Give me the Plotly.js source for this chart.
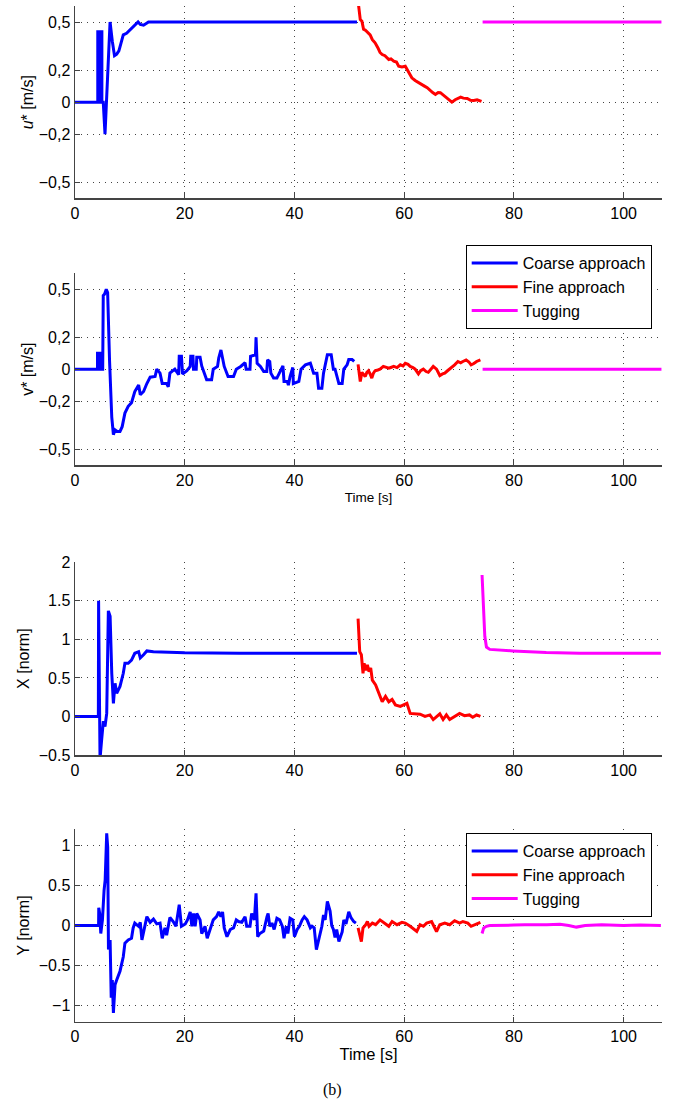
<!DOCTYPE html>
<html><head><meta charset="utf-8">
<script src="https://cdn.plot.ly/plotly-3.0.1.min.js"></script>
<style>html,body{margin:0;padding:0;background:#fff;}#chart{width:673px;height:1101px;}</style>
</head><body><div id="chart"></div>
<script>
// ---------- DATA ----------
const seriesNames = ['Coarse approach', 'Fine approach', 'Tugging'];
const xTickVals = [0, 20, 40, 60, 80, 100];
const xTickText = ['0', '20', '40', '60', '80', '100'];
const uvTickVals = [-0.5, -0.2, 0, 0.2, 0.5];
const uvTickText = ['\u22120,5', '\u22120,2', '0', '0,2', '0,5'];
const xnTickVals = [-0.5, 0, 0.5, 1, 1.5, 2];
const xnTickText = ['\u22120.5', '0', '0.5', '1', '1.5', '2'];
const ynTickVals = [-1, -0.5, 0, 0.5, 1];
const ynTickText = ['\u22121', '\u22120.5', '0', '0.5', '1'];

// u* [m/s]
const coarseT_u = [0, 4.15, 4.15, 4.3, 4.3, 4.45, 4.45, 4.6, 4.6, 4.75, 4.75, 4.9, 4.9, 5.15, 5.47, 5.9, 6.39, 6.8, 7.2, 7.6, 8.0, 8.4, 8.8, 9.4, 10.3, 10.9, 11.5, 11.9, 12.5, 13.4, 20, 30, 40, 51.4];
const coarseU = [0, 0, 0.44, 0.44, 0, 0, 0.44, 0.44, 0, 0, 0.44, 0.44, 0, 0, -0.2, 0.15, 0.5, 0.38, 0.29, 0.3, 0.32, 0.37, 0.42, 0.43, 0.46, 0.48, 0.5, 0.485, 0.48, 0.5, 0.5, 0.5, 0.5, 0.5];
const fineT_u = [51.6, 51.8, 52.0, 52.3, 52.6, 52.9, 53.2, 53.5, 53.8, 54.2, 54.7, 55.2, 55.6, 56.0, 56.5, 57.2, 57.6, 58.1, 58.6, 59.0, 59.6, 60.2, 60.6, 61.0, 61.4, 62.0, 62.6, 63.2, 63.7, 64.2, 64.8, 65.2, 65.7, 66.2, 66.6, 67.1, 67.5, 68.0, 68.7, 69.3, 69.8, 70.3, 70.8, 71.5, 72.1, 72.7, 73.3, 74.1];
const fineU = [0.63, 0.56, 0.515, 0.505, 0.455, 0.45, 0.44, 0.435, 0.42, 0.39, 0.37, 0.34, 0.31, 0.297, 0.29, 0.266, 0.27, 0.256, 0.25, 0.224, 0.22, 0.224, 0.2, 0.17, 0.152, 0.135, 0.121, 0.11, 0.1, 0.09, 0.07, 0.06, 0.048, 0.06, 0.059, 0.045, 0.037, 0.02, 0, 0.015, 0.022, 0.031, 0.025, 0.023, 0.012, 0.01, 0.015, 0.005];
const tugT_u = [74.3, 106.9];
const tugU = [0.5, 0.5];

// v* [m/s]
const coarseT_v = [0, 4.1, 4.1, 4.25, 4.25, 4.4, 4.4, 4.55, 4.55, 4.7, 4.7, 4.85, 4.85, 5.05, 5.15, 5.4, 5.7, 5.95, 6.3, 6.7, 7.0, 7.3, 7.7, 8.2, 8.6, 9.1, 9.7, 10.3, 10.9, 11.6, 11.9, 12.5, 13.1, 13.7, 14.6, 14.9, 15.5, 15.9, 16.7, 17.0, 17.3, 18.2, 18.9, 19.0, 19.4, 19.6, 20.4, 21.0, 21.1, 21.5, 21.6, 22.1, 22.2, 22.8, 23.1, 24.0, 24.9, 25.2, 25.98, 26.2, 26.6, 26.9, 27.2, 27.9, 28.9, 29.4, 30.2, 31.0, 31.2, 31.9, 32.0, 32.9, 33.0, 33.2, 33.8, 34.4, 34.95, 35.1, 35.5, 35.7, 36.2, 36.8, 37.4, 37.9, 38.1, 38.7, 38.9, 39.2, 39.7, 39.8, 40.8, 41.2, 42.0, 42.9, 43.5, 44.1, 44.4, 45.0, 45.3, 46.0, 46.7, 47.1, 47.4, 47.6, 48.1, 48.7, 49.0, 49.6, 49.9, 50.5, 50.9];
const coarseV = [0, 0, 0.1, 0.1, 0, 0, 0.1, 0.1, 0, 0, 0.1, 0.1, 0, 0, 0.46, 0.47, 0.5, 0.48, 0.05, -0.3, -0.41, -0.38, -0.39, -0.39, -0.36, -0.275, -0.233, -0.21, -0.14, -0.1, -0.16, -0.14, -0.09, -0.05, -0.046, 0, -0.025, -0.09, -0.09, -0.11, -0.025, 0, -0.035, 0.08, 0.08, -0.03, -0.01, 0.017, 0.08, 0.08, 0, 0, 0.075, 0.075, 0.02, -0.067, -0.067, 0, 0.017, 0.07, 0.12, 0.06, 0.017, -0.046, -0.046, 0, 0.017, 0.04, 0, 0, 0.08, 0.09, 0.2, 0.037, 0.017, -0.015, -0.015, 0.058, 0.048, -0.025, -0.056, -0.056, -0.015, 0.02, -0.077, -0.077, -0.1, -0.046, 0.01, -0.09, -0.077, 0, 0.027, 0.037, -0.025, -0.025, -0.12, -0.12, -0.025, 0.09, 0.09, 0, 0, -0.025, -0.09, -0.09, 0, 0.027, 0.06, 0.06, 0.048];
const fineT_v = [51.6, 52.0, 52.3, 52.6, 52.9, 53.2, 53.5, 53.8, 54.1, 54.4, 54.7, 55.2, 55.6, 56.2, 56.7, 57.2, 57.7, 58.1, 58.7, 59.3, 59.8, 60.2, 60.7, 61.1, 61.6, 62.0, 62.6, 63.0, 63.5, 64.0, 64.4, 64.9, 65.3, 65.9, 66.5, 67.0, 67.4, 67.9, 68.3, 68.8, 69.2, 69.8, 70.3, 70.7, 71.3, 71.8, 72.2, 72.7, 73.2, 73.9];
const fineV = [0.03, -0.077, -0.02, -0.035, -0.046, -0.02, -0.01, -0.03, -0.056, -0.025, -0.01, -0.005, 0, 0.017, 0.01, 0.006, 0.012, 0.017, 0.01, 0.027, 0.02, 0.037, 0.03, 0.017, 0.01, 0, -0.03, -0.01, 0, -0.015, -0.02, 0.005, 0.017, 0, -0.04, -0.03, -0.025, -0.01, 0, 0.012, 0.027, 0.048, 0.04, 0.048, 0.058, 0.045, 0.027, 0.035, 0.048, 0.058];
const tugT_v = [74.3, 106.9];
const tugV = [0, 0];

// X [norm]
const coarseT_x = [0, 4.26, 4.3, 4.56, 4.86, 5.17, 5.47, 5.78, 6.08, 6.4, 6.7, 7.0, 7.3, 7.6, 8.2, 8.8, 9.1, 9.7, 10.3, 10.9, 11.6, 11.9, 12.5, 13.1, 14.3, 16.7, 20, 30, 40, 51.4];
const coarseX = [0, 0, 1.5, -0.55, -0.3, -0.06, -0.13, 0.04, 1.37, 1.3, 0.56, 0.17, 0.43, 0.3, 0.39, 0.56, 0.69, 0.69, 0.73, 0.82, 0.84, 0.76, 0.8, 0.85, 0.84, 0.83, 0.825, 0.82, 0.82, 0.82];
const fineT_x = [51.6, 51.9, 52.2, 52.5, 52.7, 53.0, 53.3, 53.6, 53.9, 54.2, 54.8, 55.4, 56.0, 56.6, 57.2, 57.8, 58.4, 59.3, 59.9, 60.5, 61.1, 62.0, 62.9, 63.8, 64.7, 65.3, 65.9, 66.5, 67.1, 67.7, 68.3, 69.2, 70.1, 71.0, 71.9, 72.5, 73.2, 73.9];
const fineX = [1.27, 0.84, 0.8, 0.56, 0.69, 0.6, 0.67, 0.58, 0.63, 0.47, 0.41, 0.3, 0.19, 0.26, 0.19, 0.22, 0.15, 0.13, 0.15, 0.17, 0.04, 0.035, 0.03, 0, 0.02, -0.04, 0, 0.035, -0.04, 0.02, -0.04, 0, 0.04, 0.01, 0.02, -0.01, 0.02, 0];
const tugT_x = [74.2, 74.4, 74.7, 75.0, 75.6, 79.8, 85.9, 92.0, 106.8];
const tugX = [1.835, 1.42, 1.04, 0.9, 0.87, 0.85, 0.83, 0.82, 0.82];

// Y [norm]
const coarseT_y = [0, 4.3, 4.33, 4.5, 4.7, 4.85, 5.0, 5.3, 5.5, 5.78, 5.96, 6.1, 6.4, 6.6, 6.8, 7.0, 7.3, 7.6, 8.2, 8.8, 9.1, 9.7, 10.3, 10.6, 10.9, 11.6, 11.9, 12.2, 12.5, 13.1, 13.7, 14.3, 14.9, 15.5, 15.9, 16.4, 16.7, 17.3, 17.9, 18.4, 19.0, 19.4, 20.1, 20.5, 21.0, 21.3, 21.6, 21.9, 22.2, 22.8, 23.1, 23.7, 24.1, 24.6, 25.2, 25.8, 26.2, 26.6, 26.9, 27.2, 27.7, 28.3, 28.9, 29.4, 29.8, 30.4, 31.0, 31.3, 31.9, 32.2, 32.7, 33.0, 33.3, 33.7, 34.4, 35.0, 35.2, 35.5, 35.9, 36.3, 36.8, 37.3, 37.8, 38.1, 38.5, 38.8, 39.2, 39.7, 40.0, 40.5, 40.9, 41.4, 41.8, 42.3, 42.9, 43.2, 43.6, 44.0, 44.4, 45.0, 45.3, 45.6, 46.0, 46.5, 46.8, 47.1, 47.4, 47.7, 48.1, 48.7, 49.0, 49.4, 49.9, 50.3, 50.8, 51.2];
const coarseY = [0, 0, 0.22, 0.15, -0.1, -0.01, 0.07, 0.44, 0.57, 1.15, 0.98, -0.3, -0.18, -0.9, -0.68, -1.09, -0.74, -0.68, -0.57, -0.39, -0.22, -0.18, -0.16, -0.03, 0.03, -0.01, 0.04, -0.18, -0.07, 0.11, 0.04, 0.08, 0.02, 0.03, -0.16, -0.03, -0.12, 0.1, 0.05, -0.01, 0.26, -0.01, 0.02, 0.07, 0.17, -0.01, 0.15, -0.01, 0.15, 0.07, -0.1, -0.01, -0.16, -0.05, 0.07, 0.11, 0.17, 0.11, 0.17, -0.03, -0.14, -0.05, -0.03, 0.07, 0.05, 0.04, 0.11, -0.01, -0.01, 0.15, 0.07, 0.4, -0.14, -0.1, -0.07, 0.11, 0.15, -0.01, 0.03, -0.05, 0.09, 0.07, -0.01, -0.16, -0.01, -0.1, 0.09, 0.07, -0.14, -0.05, -0.01, 0.07, 0.11, 0.07, -0.03, -0.01, -0.03, -0.3, -0.18, -0.01, 0.13, 0.07, 0.3, 0.18, 0.0, -0.05, -0.15, -0.05, -0.2, -0.08, 0.07, 0.02, 0.17, 0.1, 0.05, 0.03];
const fineT_y = [51.6, 51.9, 52.2, 52.5, 53.0, 53.3, 53.6, 54.2, 54.8, 55.6, 56.4, 57.2, 57.8, 58.7, 59.6, 60.2, 61.1, 61.7, 62.3, 62.9, 63.5, 64.1, 65.0, 65.9, 66.5, 67.4, 68.3, 69.2, 70.1, 70.7, 71.6, 72.2, 73.2, 73.9];
const fineY = [-0.03, -0.1, -0.2, -0.03, 0.01, 0.05, -0.01, 0.03, 0.01, 0.07, 0.03, -0.01, 0.05, 0.01, 0.04, 0.03, -0.01, -0.04, -0.075, 0.01, -0.01, 0.03, 0.05, -0.075, 0.01, 0.03, 0.01, 0.06, 0.03, 0.05, 0.03, -0.01, 0.02, 0.04];
const tugT_y = [74.2, 74.5, 75.0, 75.6, 80, 82, 86, 88.4, 90, 91.4, 93, 96, 100, 103, 106.8];
const tugY = [-0.1, -0.03, -0.01, 0, 0.005, 0.01, 0.01, 0.015, 0.0, -0.02, 0.0, 0.01, 0.0, 0.005, 0.0];

// ---------- CHART ----------
const FONT = 'Liberation Sans, Arial, Helvetica, sans-serif';
const colors = ['#0000ff', '#ff0000', '#ff00ff'];

function mk(x, y, i, xa, ya, legendName, show) {
  return {
    x: x, y: y, type: 'scatter', mode: 'lines',
    name: seriesNames[i], xaxis: xa, yaxis: ya,
    line: {color: colors[i], width: 3},
    showlegend: show, legend: legendName, hoverinfo: 'skip'
  };
}

const traces = [
  mk(coarseT_u, coarseU, 0, 'x', 'y', 'legend', false),
  mk(fineT_u, fineU, 1, 'x', 'y', 'legend', false),
  mk(tugT_u, tugU, 2, 'x', 'y', 'legend', false),
  mk(coarseT_v, coarseV, 0, 'x2', 'y2', 'legend', true),
  mk(fineT_v, fineV, 1, 'x2', 'y2', 'legend', true),
  mk(tugT_v, tugV, 2, 'x2', 'y2', 'legend', true),
  mk(coarseT_x, coarseX, 0, 'x3', 'y3', 'legend2', false),
  mk(fineT_x, fineX, 1, 'x3', 'y3', 'legend2', false),
  mk(tugT_x, tugX, 2, 'x3', 'y3', 'legend2', false),
  mk(coarseT_y, coarseY, 0, 'x4', 'y4', 'legend2', true),
  mk(fineT_y, fineY, 1, 'x4', 'y4', 'legend2', true),
  mk(tugT_y, tugY, 2, 'x4', 'y4', 'legend2', true)
];

const H = 1101;
function dom(topPx, botPx) { return [1 - botPx / H, 1 - topPx / H]; }

const common = {
  ticks: 'inside', ticklen: 5, tickcolor: '#444', tickwidth: 1,
  showline: true, linecolor: '#444', linewidth: 1.5,
  showgrid: true, gridcolor: '#444', griddash: '1px,5px', gridwidth: 1,
  zeroline: false, tickfont: {family: FONT, size: 16, color: '#000'},
  fixedrange: true
};
function xax(anchor, title, tsize, so) {
  const a = Object.assign({}, common, {
    anchor: anchor, domain: [0, 1], range: [0, 107],
    tickmode: 'array', tickvals: xTickVals, ticktext: xTickText
  });
  if (title) a.title = {text: title, font: {family: FONT, size: tsize, color: '#000'}, standoff: so};
  return a;
}
function yax(anchor, d, range, tv, tt, title, so) {
  return Object.assign({}, common, {
    anchor: anchor, domain: d, range: range,
    tickmode: 'array', tickvals: tv, ticktext: tt,
    title: {text: title, font: {family: FONT, size: 16, color: '#000'}, standoff: so}
  });
}

const legendCommon = {
  xref: 'paper', yref: 'paper', xanchor: 'left', yanchor: 'top',
  bgcolor: '#fff', bordercolor: '#000', borderwidth: 1,
  font: {family: FONT, size: 16, color: '#000'}, itemwidth: 46,
  tracegroupgap: 0
};

const layout = {
  width: 673, height: 1101,
  margin: {l: 75, r: 11, t: 0, b: 0},
  paper_bgcolor: '#fff', plot_bgcolor: '#fff',
  font: {family: FONT, color: '#000'},
  xaxis: xax('y', null, 16, 2),
  yaxis: yax('x', dom(6, 198.3), [-0.6, 0.6], uvTickVals, uvTickText, '<i>u</i>* [m/s]', 1),
  xaxis2: xax('y2', 'Time [s]', 13.5, 5),
  yaxis2: yax('x2', dom(273.3, 465), [-0.6, 0.6], uvTickVals, uvTickText, 'v* [m/s]', 1),
  xaxis3: xax('y3', null, 16, 2),
  yaxis3: yax('x3', dom(562.3, 755), [-0.5, 2], xnTickVals, xnTickText, 'X [norm]', 5),
  xaxis4: xax('y4', 'Time [s]', 16.5, 3),
  yaxis4: yax('x4', dom(829.3, 1021.7), [-1.2, 1.2], ynTickVals, ynTickText, 'Y [norm]', 5),
  legend: Object.assign({}, legendCommon, {x: (465.7 - 75) / 587, y: 1 - 245 / H}),
  legend2: Object.assign({}, legendCommon, {x: (465.7 - 75) / 587, y: 1 - 833 / H}),
  annotations: [{
    text: '(b)', xref: 'paper', yref: 'paper',
    x: (332 - 75) / 587, y: 1 - 1090 / H, xanchor: 'center', yanchor: 'middle',
    showarrow: false, font: {family: 'Liberation Serif, Times New Roman, serif', size: 16, color: '#000'}
  }]
};

Plotly.newPlot('chart', traces, layout, {displayModeBar: false, staticPlot: true});
</script>
</body></html>
